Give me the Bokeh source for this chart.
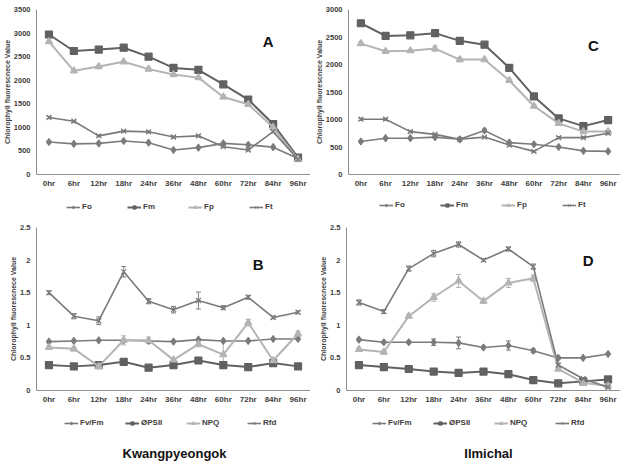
from bokeh.plotting import figure
from bokeh.models import (ColumnDataSource, FactorRange, Range1d, FixedTicker, Legend,
                          LegendItem, Label, Whisker, TeeHead)
from bokeh.layouts import column, row
from bokeh.embed import file_html
from bokeh.resources import INLINE

# Sampling times
hours = ["0hr", "6hr", "12hr", "18hr", "24hr", "36hr", "48hr", "60hr", "72hr", "84hr", "96hr"]

# Kwangpyeongok: fluorescence parameters (A)
fo_kw = [690, 650, 660, 710, 675, 520, 570, 660, 630, 580, 340]
fm_kw = [2970, 2620, 2650, 2690, 2500, 2260, 2220, 1910, 1590, 1070, 360]
fp_kw = [2820, 2200, 2290, 2390, 2235, 2120, 2055, 1645, 1490, 1000, 320]
ft_kw = [1210, 1130, 820, 920, 905, 795, 820, 590, 520, 910, 320]
fo_kw_err = [20, 15, 15, 20, 15, 15, 15, 20, 15, 15, 10]
fm_kw_err = [30, 25, 25, 30, 25, 25, 25, 30, 25, 30, 15]
fp_kw_err = [30, 25, 25, 30, 25, 25, 25, 40, 30, 30, 15]
ft_kw_err = [25, 20, 20, 20, 20, 20, 20, 20, 20, 25, 10]

# Ilmichal: fluorescence parameters (C)
fo_il = [600, 660, 660, 680, 640, 800, 580, 550, 500, 430, 420]
fm_il = [2750, 2520, 2530, 2570, 2430, 2360, 1940, 1420, 1020, 880, 990]
fp_il = [2380, 2240, 2250, 2290, 2090, 2090, 1710, 1245, 930, 780, 780]
ft_il = [1005, 1005, 780, 730, 640, 680, 535, 420, 670, 670, 750]
fo_il_err = [15, 15, 15, 20, 15, 25, 15, 15, 15, 10, 10]
fm_il_err = [30, 25, 25, 40, 25, 25, 25, 30, 25, 20, 20]
fp_il_err = [30, 25, 25, 50, 40, 25, 30, 30, 25, 20, 20]
ft_il_err = [20, 20, 20, 20, 15, 15, 15, 15, 20, 20, 20]

# Kwangpyeongok: derived parameters (B)
fvfm_kw = [0.75, 0.76, 0.77, 0.77, 0.76, 0.75, 0.78, 0.76, 0.76, 0.79, 0.79]
phi_kw = [0.39, 0.37, 0.39, 0.44, 0.35, 0.39, 0.46, 0.39, 0.36, 0.42, 0.37]
npq_kw = [0.66, 0.64, 0.37, 0.77, 0.77, 0.47, 0.71, 0.55, 1.04, 0.46, 0.87]
rfd_kw = [1.50, 1.14, 1.07, 1.82, 1.37, 1.24, 1.38, 1.27, 1.43, 1.12, 1.20]
fvfm_kw_err = [0.01, 0.01, 0.01, 0.01, 0.01, 0.01, 0.01, 0.01, 0.01, 0.01, 0.01]
phi_kw_err = [0.01, 0.01, 0.01, 0.01, 0.01, 0.01, 0.01, 0.01, 0.01, 0.01, 0.01]
npq_kw_err = [0.03, 0.03, 0.03, 0.07, 0.05, 0.02, 0.04, 0.20, 0.05, 0.03, 0.04]
rfd_kw_err = [0.03, 0.04, 0.06, 0.08, 0.04, 0.05, 0.13, 0.03, 0.03, 0.02, 0.02]

# Ilmichal: derived parameters (D)
fvfm_il = [0.78, 0.74, 0.74, 0.74, 0.73, 0.66, 0.69, 0.61, 0.50, 0.50, 0.56]
phi_il = [0.39, 0.36, 0.33, 0.29, 0.27, 0.29, 0.25, 0.16, 0.11, 0.14, 0.17]
npq_il = [0.63, 0.59, 1.14, 1.43, 1.68, 1.37, 1.65, 1.72, 0.33, 0.12, 0.07]
rfd_il = [1.35, 1.21, 1.87, 2.10, 2.24, 2.00, 2.17, 1.90, 0.39, 0.18, 0.05]
fvfm_il_err = [0.02, 0.02, 0.02, 0.05, 0.09, 0.02, 0.07, 0.03, 0.02, 0.01, 0.01]
phi_il_err = [0.01, 0.01, 0.01, 0.01, 0.01, 0.01, 0.01, 0.01, 0.01, 0.01, 0.01]
npq_il_err = [0.03, 0.03, 0.03, 0.06, 0.10, 0.03, 0.07, 0.05, 0.03, 0.02, 0.02]
rfd_il_err = [0.04, 0.03, 0.04, 0.05, 0.04, 0.02, 0.03, 0.04, 0.03, 0.02, 0.02]

fluor_names = ["Fo", "Fm", "Fp", "Ft"]
ratio_names = ["Fv/Fm", "ØPSII", "NPQ", "Rfd"]

FONT = "Liberation Sans"
TEXT = "#404040"
Y_TITLE = "Chlorophyll fluorescnece Value"

# marker / colour per series slot (same slot styling in every panel)
STYLES = [
    dict(marker="diamond", color="#7b7b7b", size=7, lw=1.6),
    dict(marker="square", color="#616161", size=7, lw=2.0),
    dict(marker="triangle", color="#b4b4b4", size=7, lw=2.0),
    dict(marker="x", color="#7a7a7a", size=7, lw=1.6),
]


def bare(w, h):
    """Axis-free strip used for legends and cultivar names."""
    p = figure(width=w, height=h, x_range=Range1d(0, w), y_range=Range1d(0, h),
               output_backend="svg", toolbar_location=None, min_border=0,
               outline_line_color=None)
    p.axis.visible = False
    p.grid.visible = False
    return p


def panel(series, ymax, ystep, letter, letter_xy, w, h, left, top, bottom):
    p = figure(width=w, height=h, x_range=FactorRange(*hours, range_padding=0),
               y_range=Range1d(0, ymax), output_backend="svg", toolbar_location=None,
               min_border_left=left, min_border_right=0, min_border_top=top,
               min_border_bottom=bottom, outline_line_color=None)
    p.xgrid.visible = False
    p.ygrid.visible = False

    for (vals, errs), st in zip(series, STYLES):
        src = ColumnDataSource(dict(x=hours, y=vals,
                                    lo=[v - e for v, e in zip(vals, errs)],
                                    hi=[v + e for v, e in zip(vals, errs)]))
        p.line("x", "y", source=src, line_color=st["color"], line_width=st["lw"])
        p.add_layout(Whisker(base="x", lower="lo", upper="hi", source=src,
                             line_color=st["color"], line_width=1,
                             upper_head=TeeHead(size=5, line_color=st["color"], line_width=1),
                             lower_head=TeeHead(size=5, line_color=st["color"], line_width=1)))
        p.scatter("x", "y", source=src, marker=st["marker"], size=st["size"],
                  fill_color=st["color"], line_color=st["color"], line_width=1.2)

    p.yaxis.ticker = FixedTicker(ticks=[i * ystep for i in range(int(round(ymax / ystep)) + 1)])
    p.yaxis.axis_label = Y_TITLE
    for ax in (p.xaxis[0], p.yaxis[0]):
        ax.axis_line_color = "#8f8f8f"
        ax.axis_line_width = 1
        ax.major_tick_out = 0
        ax.major_tick_in = 0
        ax.minor_tick_out = 0
        ax.minor_tick_in = 0
        ax.major_tick_line_color = None
        ax.minor_tick_line_color = None
        ax.major_label_text_font = FONT
        ax.major_label_text_font_style = "bold"
        ax.major_label_text_color = TEXT
    p.yaxis.major_label_text_font_size = "7.5px"
    p.yaxis.major_label_standoff = 6
    p.yaxis.axis_label_text_font = FONT
    p.yaxis.axis_label_text_font_size = "7px"
    p.yaxis.axis_label_text_font_style = "bold"
    p.yaxis.axis_label_text_color = TEXT
    p.yaxis.axis_label_standoff = 0
    p.xaxis.major_label_text_font_size = "8px"
    p.xaxis.major_label_standoff = 4

    p.add_layout(Label(x=letter_xy[0], y=letter_xy[1], text=letter, text_font=FONT,
                       text_font_size="15px", text_font_style="bold", text_color="#111111",
                       text_align="center", text_baseline="middle"))
    return p


def legend_strip(names, w, h, x0, y0):
    p = bare(w, h)
    items = []
    for name, st in zip(names, STYLES):
        # a single off-canvas point so the legend has a sample to draw from
        ln = p.line([-100, -90], [-100, -100], line_color=st["color"], line_width=st["lw"])
        sc = p.scatter([-100], [-100], marker=st["marker"], size=5, fill_color=st["color"],
                       line_color=st["color"], line_width=1)
        items.append(LegendItem(label=name, renderers=[ln, sc]))
    p.add_layout(Legend(items=items, orientation="horizontal", location=(x0, y0),
                        glyph_width=14, glyph_height=8, label_standoff=2, label_width=30,
                        label_height=8, spacing=15, padding=0, margin=0,
                        border_line_color=None, background_fill_alpha=0,
                        label_text_font=FONT, label_text_font_size="8px",
                        label_text_font_style="bold", label_text_color=TEXT))
    return p


def name_strip(text, w, h, xc, yc):
    p = bare(w, h)
    p.add_layout(Label(x=xc, y=yc, text=text, text_font=FONT, text_font_size="13px",
                       text_font_style="bold", text_color="#111111",
                       text_align="center", text_baseline="middle"))
    return p


pa = panel(list(zip([fo_kw, fm_kw, fp_kw, ft_kw], [fo_kw_err, fm_kw_err, fp_kw_err, ft_kw_err])),
           3500, 500, "A", (9.3, 2830), 310, 193, 32, 9, 16)
pc = panel(list(zip([fo_il, fm_il, fp_il, ft_il], [fo_il_err, fm_il_err, fp_il_err, ft_il_err])),
           3000, 500, "C", (9.9, 2350), 310, 193, 38, 7, 19)
pb = panel(list(zip([fvfm_kw, phi_kw, npq_kw, rfd_kw],
                    [fvfm_kw_err, phi_kw_err, npq_kw_err, rfd_kw_err])),
           2.5, 0.5, "B", (8.9, 1.93), 310, 188, 36, 5, 20)
pd_ = panel(list(zip([fvfm_il, phi_il, npq_il, rfd_il],
                     [fvfm_il_err, phi_il_err, npq_il_err, rfd_il_err])),
            2.5, 0.5, "D", (9.7, 2.0), 310, 188, 36, 5, 20)

la = legend_strip(fluor_names, 310, 29, 66, 11)
lc = legend_strip(fluor_names, 310, 29, 69, 13)
lb = legend_strip(ratio_names, 310, 26, 64, 9)
ld = legend_strip(ratio_names, 310, 26, 62, 9)
nb = name_strip("Kwangpyeongok", 310, 25, 174, 8)
nd = name_strip("Ilmichal", 310, 25, 178, 8)

layout = column(row(pa, pc), row(la, lc), row(pb, pd_), row(lb, ld), row(nb, nd))
open("out.html", "w").write(file_html(layout, INLINE))
